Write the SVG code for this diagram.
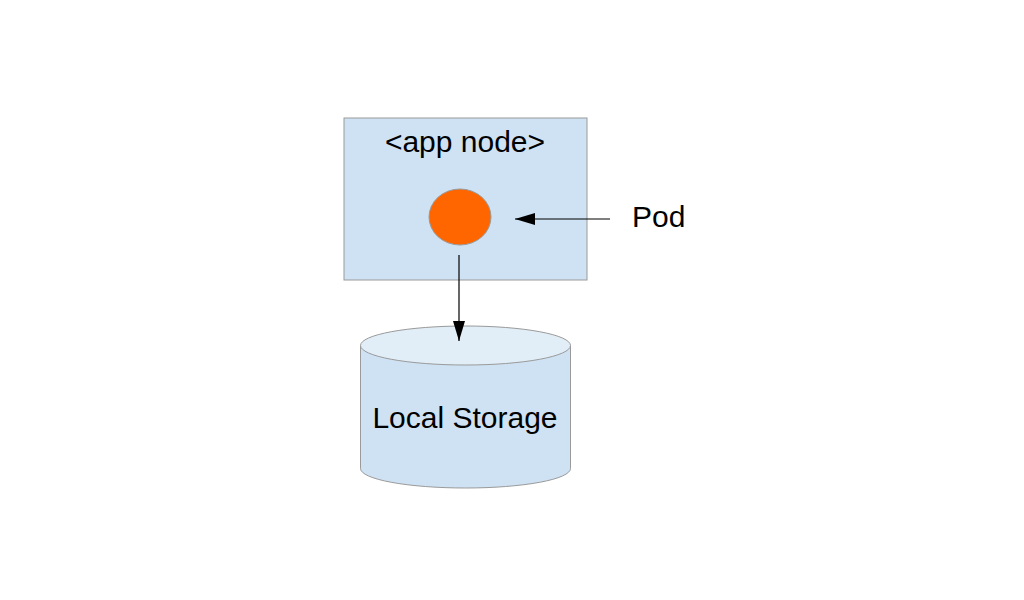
<svg xmlns="http://www.w3.org/2000/svg" width="1024" height="600" viewBox="0 0 1024 600">
<style>
text{font-family:"Liberation Sans",Arial,sans-serif;fill:#000;font-size:30px}
.shape{stroke:#9a9a9a;stroke-width:1}
.conn{stroke:#000;stroke-width:1.2;fill:none}
</style>
<defs>
<marker id="ah" viewBox="0 0 20 12" refX="20" refY="6" markerWidth="20" markerHeight="12" markerUnits="userSpaceOnUse" orient="auto">
<path d="M0,0 L20,6 L0,12 Z" fill="#000"/>
</marker>
</defs>
<rect width="1024" height="600" fill="#fff"/>
<g id="app-node">
<rect class="shape" x="344" y="118" width="243" height="162" fill="#cfe2f3"/>
<text x="465" y="152" text-anchor="middle">&lt;app node&gt;</text>
</g>
<g id="pod-circle">
<ellipse class="shape" cx="460" cy="217" rx="31" ry="28" fill="#ff6600"/>
</g>
<g id="pod-label">
<text x="632" y="227">Pod</text>
</g>
<g id="local-storage">
<path class="shape" d="M360.5,345.5 L360.5,468.5 A105,19.5 0 0 0 570.5,468.5 L570.5,345.5" fill="#cfe2f3"/>
<ellipse class="shape" cx="465.5" cy="345.5" rx="105" ry="19.5" fill="#e1eef8"/>
<text x="465" y="428" text-anchor="middle">Local Storage</text>
</g>
<g id="connectors">
<line class="conn" x1="610" y1="219" x2="515" y2="219" marker-end="url(#ah)"/>
<line class="conn" x1="459" y1="255" x2="459" y2="341" marker-end="url(#ah)"/>
</g>
</svg>
